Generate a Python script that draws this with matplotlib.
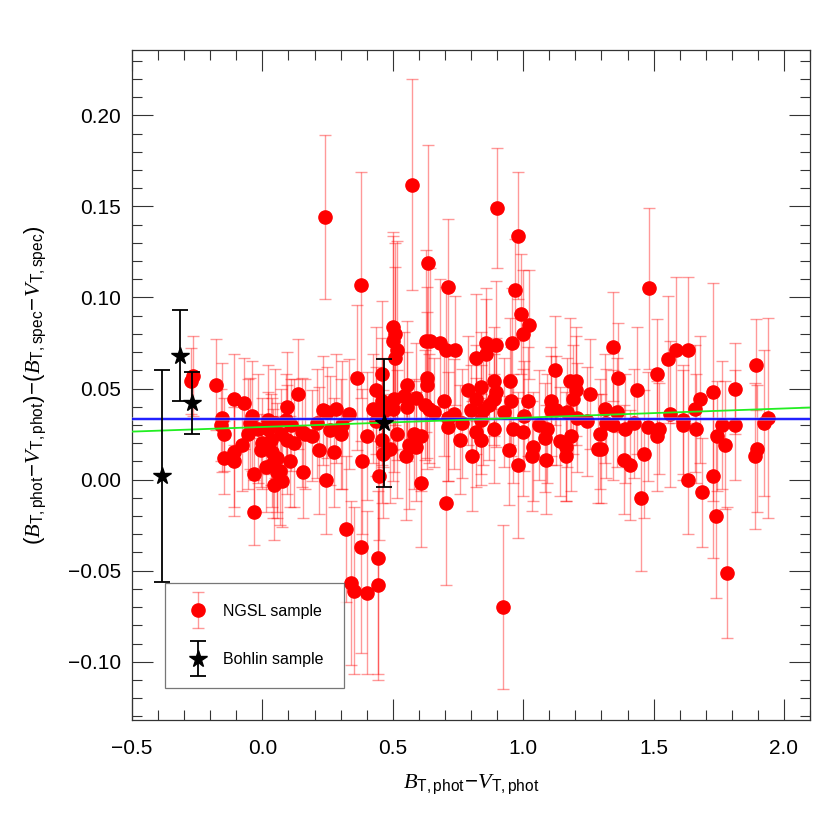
import numpy as np
import matplotlib
matplotlib.use('Agg')
import matplotlib.pyplot as plt
from matplotlib.ticker import MultipleLocator
from matplotlib.legend_handler import HandlerErrorbar

plt.rcParams['font.family'] = ['Liberation Sans', 'DejaVu Sans']
plt.rcParams['mathtext.fontset'] = 'custom'
plt.rcParams['mathtext.rm'] = 'Liberation Sans'
plt.rcParams['mathtext.it'] = 'Liberation Serif:italic'

# NGSL sample: (B-V)_phot, residual, error
ngsl = [
    (-0.267, 0.057, 0.022), (-0.273, 0.054, 0.018), (-0.177, 0.052, 0.025), (-0.153, 0.034, 0.030),
    (-0.159, 0.030, 0.020), (-0.147, 0.025, 0.020), (-0.147, 0.012, 0.020), (-0.109, 0.044, 0.025),
    (-0.070, 0.042, 0.025), (-0.109, 0.015, 0.030), (-0.109, 0.010, 0.030), (-0.078, 0.019, 0.025),
    (-0.057, 0.025, 0.030), (-0.040, 0.035, 0.030), (-0.049, 0.031, 0.025), (-0.031, 0.003, 0.020),
    (-0.032, -0.018, 0.018), (-0.018, 0.028, 0.030), (0.012, 0.007, 0.025), (0.022, 0.033, 0.030),
    (0.033, 0.022, 0.025), (0.035, 0.015, 0.030), (0.047, 0.031, 0.030), (0.057, 0.012, 0.030),
    (0.057, 0.004, 0.025), (0.046, -0.003, 0.030), (0.076, -0.001, 0.025), (0.067, 0.005, 0.030),
    (0.095, 0.040, 0.030), (0.092, 0.033, 0.025), (0.095, 0.022, 0.030), (0.105, 0.010, 0.025),
    (0.122, 0.020, 0.035), (0.137, 0.047, 0.030), (0.153, 0.026, 0.030), (0.155, 0.004, 0.025),
    (0.000, 0.020, 0.025), (0.020, 0.028, 0.020), (0.070, 0.025, 0.025), (0.110, 0.030, 0.025),
    (-0.005, 0.016, 0.020), (0.040, 0.009, 0.030),
    (0.162, 0.025, 0.030), (0.191, 0.024, 0.025), (0.210, 0.031, 0.030), (0.217, 0.016, 0.035),
    (0.233, 0.038, 0.030), (0.249, 0.037, 0.025), (0.281, 0.039, 0.030), (0.258, 0.027, 0.030),
    (0.274, 0.015, 0.030), (0.300, 0.025, 0.030), (0.306, 0.030, 0.035), (0.243, 0.000, 0.030),
    (0.333, 0.036, 0.030), (0.364, 0.056, 0.040), (0.400, 0.024, 0.035), (0.382, 0.010, 0.040),
    (0.322, -0.027, 0.040), (0.380, -0.037, 0.058), (0.341, -0.057, 0.045), (0.350, -0.061, 0.046),
    (0.400, -0.062, 0.045), (0.426, 0.039, 0.030), (0.435, 0.049, 0.035), (0.458, 0.058, 0.040),
    (0.445, -0.043, 0.064), (0.445, -0.058, 0.052), (0.449, 0.002, 0.035), (0.458, 0.022, 0.035),
    (0.464, 0.014, 0.035), (0.490, 0.017, 0.030), (0.458, 0.043, 0.035), (0.464, 0.037, 0.030),
    (0.436, 0.032, 0.030), (0.499, 0.084, 0.050), (0.509, 0.080, 0.050), (0.502, 0.076, 0.060),
    (0.515, 0.071, 0.060), (0.509, 0.067, 0.050), (0.505, 0.044, 0.040), (0.502, 0.039, 0.040),
    (0.518, 0.025, 0.035), (0.543, 0.046, 0.035), (0.554, 0.052, 0.035), (0.551, 0.013, 0.035),
    (0.563, 0.019, 0.035), (0.554, 0.040, 0.030), (0.588, 0.045, 0.030), (0.588, 0.018, 0.030),
    (0.582, 0.025, 0.030), (0.610, -0.002, 0.035), (0.610, 0.024, 0.030), (0.627, 0.076, 0.050),
    (0.643, 0.076, 0.040), (0.631, 0.056, 0.050), (0.631, 0.052, 0.040), (0.623, 0.041, 0.030),
    (0.640, 0.039, 0.030), (0.658, 0.037, 0.030), (0.682, 0.075, 0.035), (0.704, 0.071, 0.035),
    (0.738, 0.071, 0.030), (0.695, 0.043, 0.030), (0.710, 0.034, 0.035), (0.710, 0.029, 0.030),
    (0.735, 0.036, 0.030), (0.758, 0.022, 0.030), (0.704, -0.013, 0.045), (0.803, 0.013, 0.030),
    (0.819, 0.067, 0.035), (0.790, 0.049, 0.030), (0.819, 0.044, 0.030), (0.765, 0.031, 0.030),
    (0.819, 0.026, 0.030),
    (0.241, 0.144, 0.045), (0.377, 0.107, 0.062), (0.573, 0.162, 0.058), (0.636, 0.119, 0.065),
    (0.710, 0.106, 0.037), (0.898, 0.149, 0.033), (0.981, 0.134, 0.035), (0.968, 0.104, 0.028),
    (0.990, 0.091, 0.033), (1.483, 0.105, 0.044), (0.923, -0.070, 0.045), (1.780, -0.051, 0.036),
    (1.024, 0.085, 0.030), (1.001, 0.080, 0.035), (0.858, 0.075, 0.030), (0.896, 0.074, 0.035),
    (0.858, 0.069, 0.030), (0.958, 0.075, 0.030), (0.838, 0.051, 0.030), (0.887, 0.054, 0.030),
    (0.896, 0.048, 0.030), (0.887, 0.044, 0.025), (0.950, 0.054, 0.035), (0.954, 0.043, 0.030),
    (1.018, 0.043, 0.030), (0.846, 0.038, 0.030), (0.870, 0.041, 0.030), (0.800, 0.038, 0.025),
    (0.928, 0.037, 0.030), (0.838, 0.033, 0.030), (0.887, 0.028, 0.030), (0.838, 0.022, 0.025),
    (0.960, 0.028, 0.030), (0.998, 0.026, 0.035), (1.002, 0.035, 0.030), (0.947, 0.016, 0.030),
    (0.980, 0.008, 0.040), (1.037, 0.018, 0.030), (1.035, 0.013, 0.030), (1.060, 0.030, 0.030),
    (1.090, 0.028, 0.030), (1.088, 0.011, 0.030), (1.085, 0.023, 0.030), (1.108, 0.043, 0.030),
    (1.108, 0.038, 0.030), (1.123, 0.060, 0.030), (1.127, 0.038, 0.030), (1.140, 0.021, 0.030),
    (1.163, 0.013, 0.025), (1.163, 0.018, 0.030), (1.182, 0.024, 0.030), (1.169, 0.037, 0.030),
    (1.178, 0.054, 0.035), (1.204, 0.054, 0.030), (1.204, 0.049, 0.030), (1.191, 0.044, 0.030),
    (1.208, 0.034, 0.030), (1.255, 0.047, 0.030), (1.246, 0.032, 0.030), (1.293, 0.025, 0.030),
    (1.287, 0.017, 0.030), (1.300, 0.017, 0.030), (1.313, 0.039, 0.030), (1.319, 0.031, 0.030),
    (1.358, 0.037, 0.030), (1.345, 0.030, 0.030), (1.364, 0.056, 0.030), (1.345, 0.073, 0.030),
    (1.389, 0.028, 0.030), (1.387, 0.011, 0.030), (1.409, 0.008, 0.030), (1.425, 0.031, 0.030),
    (1.437, 0.049, 0.035), (1.463, 0.014, 0.035), (1.450, -0.010, 0.040), (1.479, 0.029, 0.030),
    (1.512, 0.024, 0.030), (1.520, 0.028, 0.025), (1.512, 0.058, 0.030), (1.556, 0.066, 0.035),
    (1.563, 0.036, 0.040), (1.586, 0.071, 0.040), (1.631, 0.071, 0.040), (1.614, 0.033, 0.030),
    (1.612, 0.030, 0.030), (1.633, 0.000, 0.030), (1.659, 0.039, 0.035), (1.678, 0.044, 0.035),
    (1.662, 0.028, 0.030), (1.685, -0.007, 0.030), (1.727, 0.048, 0.060), (1.742, 0.024, 0.030),
    (1.763, 0.030, 0.035), (1.774, 0.019, 0.035), (1.727, 0.002, 0.045), (1.740, -0.020, 0.045),
    (1.812, 0.050, 0.025), (1.812, 0.030, 0.030), (1.892, 0.063, 0.025), (1.896, 0.017, 0.035),
    (1.890, 0.013, 0.040), (1.923, 0.031, 0.040), (1.937, 0.034, 0.055),
]
ngsl_x = [p[0] for p in ngsl]
ngsl_y = [p[1] for p in ngsl]
ngsl_e = [p[2] for p in ngsl]

# Bohlin sample
bohlin_x = [-0.385, -0.315, -0.27, 0.465]
bohlin_y = [0.002, 0.068, 0.042, 0.031]
bohlin_e = [0.058, 0.025, 0.017, 0.035]

mean_offset = 0.0332
fit_slope = 0.00508
fit_intercept = 0.0289

fig = plt.figure(figsize=(8.3, 8.3), dpi=100)
ax = fig.add_axes([0.159, 0.1325, 0.817, 0.8075])

h1 = ax.errorbar(ngsl_x, ngsl_y, yerr=ngsl_e, fmt='o', color='red', ms=9.5, mec='red',
                 ecolor=(1, 0, 0, 0.4), elinewidth=1.0, capsize=4.5, capthick=1.0, zorder=3)

xl = np.array([-0.5, 2.1])
ax.axhspan(mean_offset - 0.0012, mean_offset + 0.0012, color=(0.6, 0.6, 1.0), alpha=0.5, lw=0, zorder=4)
ax.axhline(mean_offset, color='blue', lw=1.2, zorder=4)
ax.plot(xl, fit_intercept + fit_slope * xl, color='#22ee22', lw=1.3, zorder=4)

h2 = ax.errorbar(bohlin_x, bohlin_y, yerr=bohlin_e, fmt='*', color='black', ms=13,
                 elinewidth=1.3, capsize=6, capthick=1.3, zorder=5)

leg = ax.legend([h1, h2], ['NGSL sample', 'Bohlin sample'], loc='lower left',
                bbox_to_anchor=(0.049, 0.048), fontsize=11.5, fancybox=False,
                edgecolor='#555555', handlelength=1.5, borderpad=1.3, labelspacing=2.1,
                handletextpad=0.8, borderaxespad=0,
                handler_map={type(h1): HandlerErrorbar(yerr_size=1.1)})
leg.get_frame().set_linewidth(0.9)

ax.set_xlim(-0.5, 2.1)
ax.set_ylim(-0.132, 0.236)
ax.xaxis.set_major_locator(MultipleLocator(0.5))
ax.xaxis.set_minor_locator(MultipleLocator(0.1))
ax.yaxis.set_major_locator(MultipleLocator(0.05))
ax.yaxis.set_minor_locator(MultipleLocator(0.01))
ax.xaxis.set_major_formatter(plt.FuncFormatter(lambda v, p: ('%.1f' % v).replace('-', '\u2212')))
ax.yaxis.set_major_formatter(plt.FuncFormatter(lambda v, p: ('%.2f' % v).replace('-', '\u2212')))
ax.tick_params(which='both', direction='in', top=True, right=True, width=0.8, color='#333333')
ax.tick_params(which='major', length=15, labelsize=15)
ax.tick_params(axis='x', which='major', pad=14)
ax.tick_params(axis='y', which='major', pad=8)
ax.tick_params(which='minor', length=7.5)
for s in ax.spines.values():
    s.set_linewidth(0.9)
    s.set_color('#333333')

ax.set_xlabel(r'$\mathit{B}_{\mathrm{T,phot}}\!-\!\mathit{V}_{\mathrm{T,phot}}$', fontsize=16, labelpad=10)
ax.set_ylabel(r'$(\mathit{B}_{\mathrm{T,phot}}\!-\!\mathit{V}_{\mathrm{T,phot}})\!-\!(\mathit{B}_{\mathrm{T,spec}}\!-\!\mathit{V}_{\mathrm{T,spec}})$',
              fontsize=16, labelpad=14)

fig.savefig('out.png', dpi=100)
